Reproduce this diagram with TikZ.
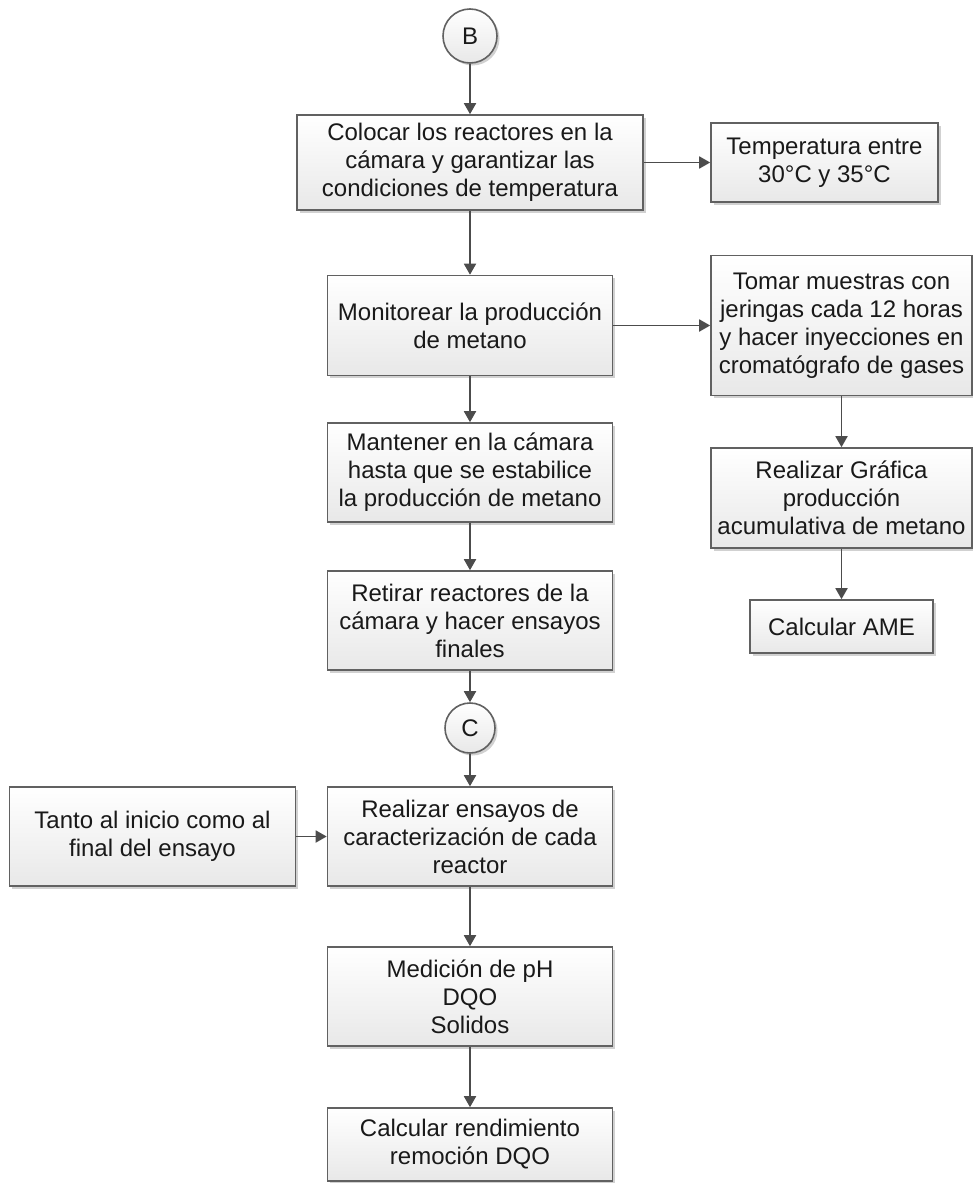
\documentclass[tikz,border=0pt]{standalone}
\usepackage{fontspec}
\setmainfont{Liberation Sans}
\usetikzlibrary{positioning,arrows.meta,shadows}

\begin{document}
\begin{tikzpicture}[x=1pt,y=-1pt,
    font=\fontsize{24}{28}\selectfont,
    caja/.style={draw=black!62, line width=1.6pt, top color=white, bottom color=black!9,
      drop shadow={shadow xshift=2.5pt,shadow yshift=-2.5pt,fill=black!30,opacity=.6},
      align=center, inner sep=2pt, text=black!90},
    conector/.style={circle, caja, minimum size=#1},
    flecha/.style={draw=black!70, line width=1.8pt, -{Triangle[width=12pt,length=11pt]}}]

  \useasboundingbox (0,0) rectangle (973,1183);

  % Connector B and first column
  \node[conector=54pt] (b) at (470,36) {B};
  \node[caja, minimum width=346pt, minimum height=95pt] (colocar) at (470,162.5)
    {Colocar los reactores en la\\c\'amara y garantizar las\\condiciones de temperatura};
  \node[caja, minimum width=227pt, minimum height=79pt] (temp) at (824.5,162.5)
    {Temperatura entre\\30°C y 35°C};

  \node[caja, minimum width=285pt, minimum height=100pt] (monitorear) at (470,325.5)
    {Monitorear la producci\'on\\de metano};
  \node[caja, minimum width=261pt, minimum height=140pt] (tomar) at (841.5,325.5)
    {Tomar muestras con\\jeringas cada 12 horas\\y hacer inyecciones en\\cromat\'ografo de gases};
  \node[caja, minimum width=261pt, minimum height=100pt] (grafica) at (841.5,498)
    {Realizar Gr\'afica\\producci\'on\\acumulativa de metano};
  \node[caja, minimum width=183pt, minimum height=53pt] (ame) at (841.5,626.5)
    {Calcular AME};

  \node[caja, minimum width=285pt, minimum height=99pt] (mantener) at (470,472.5)
    {Mantener en la c\'amara\\hasta que se estabilice\\la producci\'on de metano};
  \node[caja, minimum width=285pt, minimum height=99pt] (retirar) at (470,620.5)
    {Retirar reactores de la\\c\'amara y hacer ensayos\\finales};

  % Connector C and second part
  \node[conector=50pt] (c) at (470,728) {C};
  \node[caja, minimum width=285pt, minimum height=99pt] (ensayos) at (470,836.5)
    {Realizar ensayos de\\caracterizaci\'on de cada\\reactor};
  \node[caja, minimum width=286pt, minimum height=99pt] (tanto) at (152.5,836.5)
    {Tanto al inicio como al\\final del ensayo};
  \node[caja, minimum width=285pt, minimum height=99pt] (medicion) at (470,996.5)
    {Medici\'on de pH\\DQO\\Solidos};
  \node[caja, minimum width=285pt, minimum height=73pt] (rendimiento) at (470,1144.5)
    {Calcular rendimiento\\remoci\'on DQO};

  % Arrows
  \draw[flecha] (b) -- (colocar);
  \draw[flecha] (colocar) -- (temp);
  \draw[flecha] (colocar) -- (monitorear);
  \draw[flecha] (monitorear) -- (tomar);
  \draw[flecha] (monitorear) -- (mantener);
  \draw[flecha] (tomar) -- (grafica);
  \draw[flecha] (grafica) -- (ame);
  \draw[flecha] (mantener) -- (retirar);
  \draw[flecha] (retirar) -- (c);
  \draw[flecha] (c) -- (ensayos);
  \draw[flecha] (tanto) -- (ensayos);
  \draw[flecha] (ensayos) -- (medicion);
  \draw[flecha] (medicion) -- (rendimiento);

\end{tikzpicture}
\end{document}
